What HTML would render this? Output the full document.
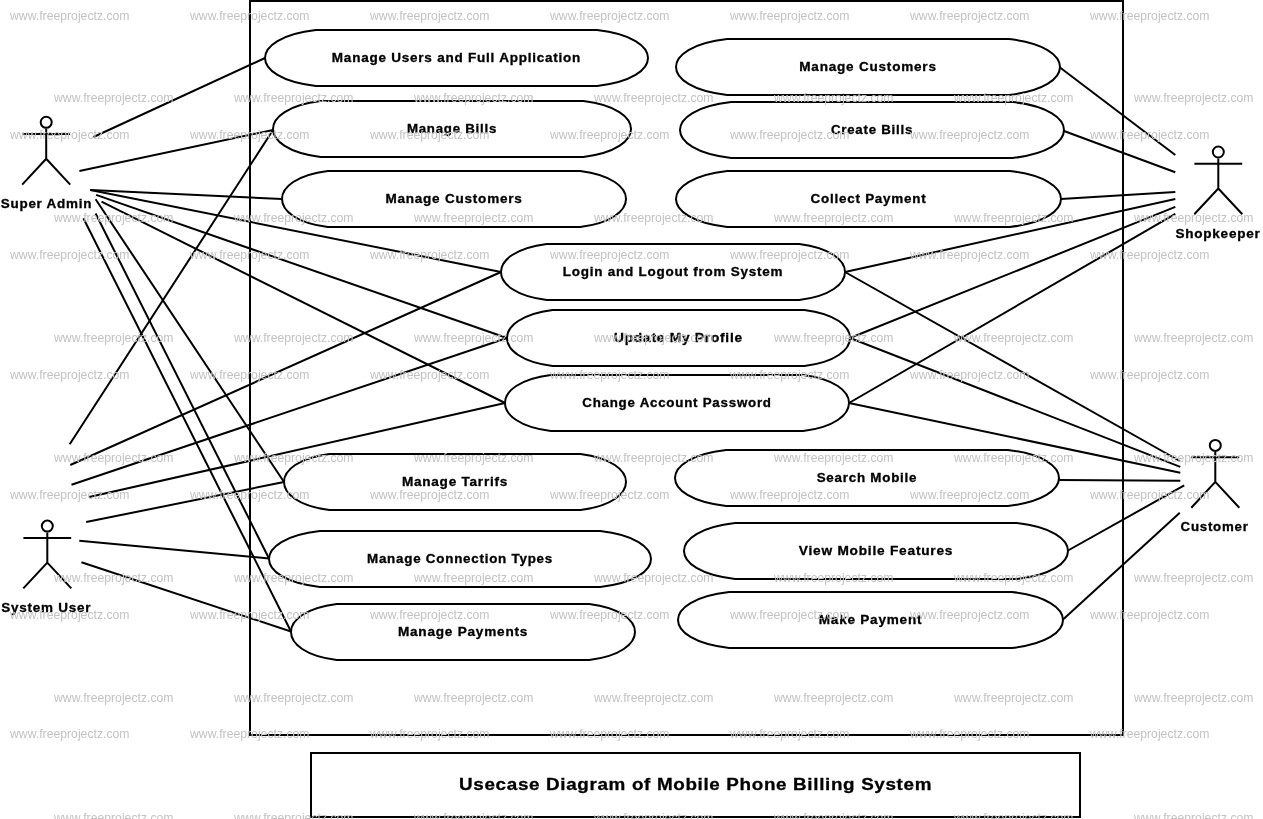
<!DOCTYPE html><html><head><meta charset="utf-8"><title>Usecase Diagram of Mobile Phone Billing System</title>
<style>html,body{margin:0;padding:0;background:#fff;width:1263px;height:819px;overflow:hidden}svg{display:block;will-change:transform}.lb{font-family:"Liberation Sans",sans-serif;font-weight:bold;fill:#000;stroke:#000;stroke-width:0.3px}.wm{font-family:"Liberation Sans",sans-serif;font-size:13px;fill:#c2c2c2}</style></head><body>
<svg width="1263" height="819" viewBox="0 0 1263 819">
<rect x="0" y="0" width="1263" height="819" fill="#fff"/>
<g stroke="#000" stroke-width="2" fill="none" stroke-linecap="butt">
<line x1="93.5" y1="137" x2="265" y2="58"/>
<line x1="79.4" y1="171" x2="273" y2="130"/>
<line x1="90.3" y1="190" x2="282" y2="199"/>
<line x1="90.3" y1="190" x2="501" y2="272"/>
<line x1="96.1" y1="194.9" x2="507" y2="338"/>
<line x1="101.5" y1="201.7" x2="505" y2="403"/>
<line x1="95.6" y1="199.3" x2="284" y2="482"/>
<line x1="95.6" y1="213.5" x2="269" y2="558.5"/>
<line x1="83.4" y1="218.3" x2="291" y2="631.5"/>
<line x1="69.7" y1="444.3" x2="273" y2="130"/>
<line x1="70.3" y1="465" x2="501" y2="272"/>
<line x1="71.5" y1="484.8" x2="507" y2="338"/>
<line x1="89.2" y1="497.1" x2="505" y2="403"/>
<line x1="86.2" y1="522.1" x2="284" y2="482"/>
<line x1="79.3" y1="540.8" x2="269" y2="558.5"/>
<line x1="81.4" y1="562.3" x2="291" y2="631.5"/>
<line x1="1060" y1="67.5" x2="1175.3" y2="155"/>
<line x1="1064" y1="131" x2="1175.3" y2="172.2"/>
<line x1="1061" y1="199" x2="1175.3" y2="191.9"/>
<line x1="845" y1="272" x2="1175.3" y2="199.1"/>
<line x1="850" y1="338" x2="1175.3" y2="206.9"/>
<line x1="849" y1="403" x2="1175.3" y2="213.9"/>
<line x1="845" y1="272" x2="1179.8" y2="461"/>
<line x1="850" y1="338" x2="1180.3" y2="466.9"/>
<line x1="849" y1="403" x2="1180.3" y2="472.7"/>
<line x1="1059" y1="480" x2="1180.3" y2="480.8"/>
<line x1="1068" y1="550.5" x2="1184.2" y2="485.4"/>
<line x1="1063" y1="619.5" x2="1179.8" y2="512.8"/>
</g>
<rect x="250" y="1" width="873" height="734" fill="none" stroke="#000" stroke-width="2"/>
<g stroke="#000" stroke-width="2" fill="#fff">
<path d="M315.9,30L597.1,30C631.7,33.9 648,46.2 648,58C648,69.8 631.7,82.1 597.1,86L315.9,86C281.3,82.1 265,69.8 265,58C265,46.2 281.3,33.9 315.9,30Z"/>
<path d="M320.6,101L583.4,101C615.8,104.9 631,117.2 631,129C631,140.8 615.8,153.1 583.4,157L320.6,157C288.2,153.1 273,140.8 273,129C273,117.2 288.2,104.9 320.6,101Z"/>
<path d="M327.8,171L580.2,171C611.4,174.9 626,187.2 626,199C626,210.8 611.4,223.1 580.2,227L327.8,227C296.6,223.1 282,210.8 282,199C282,187.2 296.6,174.9 327.8,171Z"/>
<path d="M727.1,39L1008.9,39C1043.7,42.9 1060,55.2 1060,67C1060,78.8 1043.7,91.1 1008.9,95L727.1,95C692.3,91.1 676,78.8 676,67C676,55.2 692.3,42.9 727.1,39Z"/>
<path d="M731.1,102L1012.9,102C1047.7,105.9 1064,118.2 1064,130C1064,141.8 1047.7,154.1 1012.9,158L731.1,158C696.3,154.1 680,141.8 680,130C680,118.2 696.3,105.9 731.1,102Z"/>
<path d="M727.2,171L1009.8,171C1044.6,174.9 1061,187.2 1061,199C1061,210.8 1044.6,223.1 1009.8,227L727.2,227C692.4,223.1 676,210.8 676,199C676,187.2 692.4,174.9 727.2,171Z"/>
<path d="M546.8,244L799.2,244C830.4,247.9 845,260.2 845,272C845,283.8 830.4,296.1 799.2,300L546.8,300C515.6,296.1 501,283.8 501,272C501,260.2 515.6,247.9 546.8,244Z"/>
<path d="M552.6,310L804.4,310C835.4,313.9 850,326.2 850,338C850,349.8 835.4,362.1 804.4,366L552.6,366C521.6,362.1 507,349.8 507,338C507,326.2 521.6,313.9 552.6,310Z"/>
<path d="M550.8,375L803.2,375C834.4,378.9 849,391.2 849,403C849,414.8 834.4,427.1 803.2,431L550.8,431C519.6,427.1 505,414.8 505,403C505,391.2 519.6,378.9 550.8,375Z"/>
<path d="M329.5,454L580.5,454C611.4,457.9 626,470.2 626,482C626,493.8 611.4,506.1 580.5,510L329.5,510C298.6,506.1 284,493.8 284,482C284,470.2 298.6,457.9 329.5,454Z"/>
<path d="M726.1,450L1007.9,450C1042.7,453.9 1059,466.2 1059,478C1059,489.8 1042.7,502.1 1007.9,506L726.1,506C691.3,502.1 675,489.8 675,478C675,466.2 691.3,453.9 726.1,450Z"/>
<path d="M319.8,531L600.2,531C634.7,534.9 651,547.2 651,559C651,570.8 634.7,583.1 600.2,587L319.8,587C285.3,583.1 269,570.8 269,559C269,547.2 285.3,534.9 319.8,531Z"/>
<path d="M735.1,523L1016.9,523C1051.7,526.9 1068,539.2 1068,551C1068,562.8 1051.7,575.1 1016.9,579L735.1,579C700.3,575.1 684,562.8 684,551C684,539.2 700.3,526.9 735.1,523Z"/>
<path d="M336.8,604L589.2,604C620.4,607.9 635,620.2 635,632C635,643.8 620.4,656.1 589.2,660L336.8,660C305.6,656.1 291,643.8 291,632C291,620.2 305.6,607.9 336.8,604Z"/>
<path d="M729.2,592L1011.8,592C1046.6,595.9 1063,608.2 1063,620C1063,631.8 1046.6,644.1 1011.8,648L729.2,648C694.4,644.1 678,631.8 678,620C678,608.2 694.4,595.9 729.2,592Z"/>
</g>
<g class="lb" font-size="12.2" letter-spacing="0.7" text-anchor="middle">
<text x="456.5" y="62.1" textLength="249.3" lengthAdjust="spacingAndGlyphs">Manage Users and Full Application</text>
<text x="452" y="133.1" textLength="90.2" lengthAdjust="spacingAndGlyphs">Manage Bills</text>
<text x="454" y="203.1" textLength="137.2" lengthAdjust="spacingAndGlyphs">Manage Customers</text>
<text x="868" y="71.1" textLength="137.4" lengthAdjust="spacingAndGlyphs">Manage Customers</text>
<text x="872" y="134.1" textLength="82.2" lengthAdjust="spacingAndGlyphs">Create Bills</text>
<text x="868.5" y="203.1" textLength="115.9" lengthAdjust="spacingAndGlyphs">Collect Payment</text>
<text x="673" y="276.1" textLength="220.6" lengthAdjust="spacingAndGlyphs">Login and Logout from System</text>
<text x="678.5" y="342.1" textLength="128.9" lengthAdjust="spacingAndGlyphs">Update My Profile</text>
<text x="677" y="407.1" textLength="189.5" lengthAdjust="spacingAndGlyphs">Change Account Password</text>
<text x="455" y="486.1" textLength="106.2" lengthAdjust="spacingAndGlyphs">Manage Tarrifs</text>
<text x="867" y="482.1" textLength="100.6" lengthAdjust="spacingAndGlyphs">Search Mobile</text>
<text x="460" y="563.1" textLength="186" lengthAdjust="spacingAndGlyphs">Manage Connection Types</text>
<text x="876" y="555.1" textLength="154.5" lengthAdjust="spacingAndGlyphs">View Mobile Features</text>
<text x="463" y="636.1" textLength="130.2" lengthAdjust="spacingAndGlyphs">Manage Payments</text>
<text x="870.5" y="624.1" textLength="103.5" lengthAdjust="spacingAndGlyphs">Make Payment</text>
</g>
<g stroke="#000" stroke-width="2" fill="none">
<circle cx="46.2" cy="122.3" r="5.5"/>
<path d="M22.3,134.1H70.1M46.2,128.8V158.8L22.2,184.6M46.2,158.8L70.2,184.6"/>
<circle cx="47.3" cy="526.1" r="5.5"/>
<path d="M23.4,537.9H71.2M47.3,532.6V562.6L23.3,588.4M47.3,562.6L71.3,588.4"/>
<circle cx="1218.3" cy="152" r="5.5"/>
<path d="M1194.4,163.8H1242.2M1218.3,158.5V188.5L1194.3,214.3M1218.3,188.5L1242.3,214.3"/>
<circle cx="1215.3" cy="445.4" r="5.5"/>
<path d="M1191.4,457.2H1239.2M1215.3,451.9V481.9L1191.3,507.7M1215.3,481.9L1239.3,507.7"/>
</g>
<g class="lb" font-size="12.2" letter-spacing="0.7" text-anchor="middle">
<text x="46.5" y="207.7" textLength="91.6" lengthAdjust="spacingAndGlyphs">Super Admin</text>
<text x="46.2" y="611.5" textLength="90" lengthAdjust="spacingAndGlyphs">System User</text>
<text x="1218" y="238" textLength="85.2" lengthAdjust="spacingAndGlyphs">Shopkeeper</text>
<text x="1214.6" y="530.6" textLength="68" lengthAdjust="spacingAndGlyphs">Customer</text>
</g>
<rect x="311" y="753" width="769" height="64" fill="#fff" stroke="#000" stroke-width="2"/>
<text class="lb" x="695.6" y="789.6" font-size="17.4" letter-spacing="0.6" text-anchor="middle" textLength="473" lengthAdjust="spacingAndGlyphs">Usecase Diagram of Mobile Phone Billing System</text>
<g class="wm">
<text x="10" y="19.5" textLength="119.5" lengthAdjust="spacingAndGlyphs">www.freeprojectz.com</text>
<text x="54" y="102.1" textLength="119.5" lengthAdjust="spacingAndGlyphs">www.freeprojectz.com</text>
<text x="190" y="19.5" textLength="119.5" lengthAdjust="spacingAndGlyphs">www.freeprojectz.com</text>
<text x="234" y="102.1" textLength="119.5" lengthAdjust="spacingAndGlyphs">www.freeprojectz.com</text>
<text x="370" y="19.5" textLength="119.5" lengthAdjust="spacingAndGlyphs">www.freeprojectz.com</text>
<text x="414" y="102.1" textLength="119.5" lengthAdjust="spacingAndGlyphs">www.freeprojectz.com</text>
<text x="550" y="19.5" textLength="119.5" lengthAdjust="spacingAndGlyphs">www.freeprojectz.com</text>
<text x="594" y="102.1" textLength="119.5" lengthAdjust="spacingAndGlyphs">www.freeprojectz.com</text>
<text x="730" y="19.5" textLength="119.5" lengthAdjust="spacingAndGlyphs">www.freeprojectz.com</text>
<text x="774" y="102.1" textLength="119.5" lengthAdjust="spacingAndGlyphs">www.freeprojectz.com</text>
<text x="910" y="19.5" textLength="119.5" lengthAdjust="spacingAndGlyphs">www.freeprojectz.com</text>
<text x="954" y="102.1" textLength="119.5" lengthAdjust="spacingAndGlyphs">www.freeprojectz.com</text>
<text x="1090" y="19.5" textLength="119.5" lengthAdjust="spacingAndGlyphs">www.freeprojectz.com</text>
<text x="1134" y="102.1" textLength="119.5" lengthAdjust="spacingAndGlyphs">www.freeprojectz.com</text>
<text x="10" y="139.3" textLength="119.5" lengthAdjust="spacingAndGlyphs">www.freeprojectz.com</text>
<text x="54" y="222.1" textLength="119.5" lengthAdjust="spacingAndGlyphs">www.freeprojectz.com</text>
<text x="190" y="139.3" textLength="119.5" lengthAdjust="spacingAndGlyphs">www.freeprojectz.com</text>
<text x="234" y="222.1" textLength="119.5" lengthAdjust="spacingAndGlyphs">www.freeprojectz.com</text>
<text x="370" y="139.3" textLength="119.5" lengthAdjust="spacingAndGlyphs">www.freeprojectz.com</text>
<text x="414" y="222.1" textLength="119.5" lengthAdjust="spacingAndGlyphs">www.freeprojectz.com</text>
<text x="550" y="139.3" textLength="119.5" lengthAdjust="spacingAndGlyphs">www.freeprojectz.com</text>
<text x="594" y="222.1" textLength="119.5" lengthAdjust="spacingAndGlyphs">www.freeprojectz.com</text>
<text x="730" y="139.3" textLength="119.5" lengthAdjust="spacingAndGlyphs">www.freeprojectz.com</text>
<text x="774" y="222.1" textLength="119.5" lengthAdjust="spacingAndGlyphs">www.freeprojectz.com</text>
<text x="910" y="139.3" textLength="119.5" lengthAdjust="spacingAndGlyphs">www.freeprojectz.com</text>
<text x="954" y="222.1" textLength="119.5" lengthAdjust="spacingAndGlyphs">www.freeprojectz.com</text>
<text x="1090" y="139.3" textLength="119.5" lengthAdjust="spacingAndGlyphs">www.freeprojectz.com</text>
<text x="1134" y="222.1" textLength="119.5" lengthAdjust="spacingAndGlyphs">www.freeprojectz.com</text>
<text x="10" y="259.1" textLength="119.5" lengthAdjust="spacingAndGlyphs">www.freeprojectz.com</text>
<text x="54" y="342.1" textLength="119.5" lengthAdjust="spacingAndGlyphs">www.freeprojectz.com</text>
<text x="190" y="259.1" textLength="119.5" lengthAdjust="spacingAndGlyphs">www.freeprojectz.com</text>
<text x="234" y="342.1" textLength="119.5" lengthAdjust="spacingAndGlyphs">www.freeprojectz.com</text>
<text x="370" y="259.1" textLength="119.5" lengthAdjust="spacingAndGlyphs">www.freeprojectz.com</text>
<text x="414" y="342.1" textLength="119.5" lengthAdjust="spacingAndGlyphs">www.freeprojectz.com</text>
<text x="550" y="259.1" textLength="119.5" lengthAdjust="spacingAndGlyphs">www.freeprojectz.com</text>
<text x="594" y="342.1" textLength="119.5" lengthAdjust="spacingAndGlyphs">www.freeprojectz.com</text>
<text x="730" y="259.1" textLength="119.5" lengthAdjust="spacingAndGlyphs">www.freeprojectz.com</text>
<text x="774" y="342.1" textLength="119.5" lengthAdjust="spacingAndGlyphs">www.freeprojectz.com</text>
<text x="910" y="259.1" textLength="119.5" lengthAdjust="spacingAndGlyphs">www.freeprojectz.com</text>
<text x="954" y="342.1" textLength="119.5" lengthAdjust="spacingAndGlyphs">www.freeprojectz.com</text>
<text x="1090" y="259.1" textLength="119.5" lengthAdjust="spacingAndGlyphs">www.freeprojectz.com</text>
<text x="1134" y="342.1" textLength="119.5" lengthAdjust="spacingAndGlyphs">www.freeprojectz.com</text>
<text x="10" y="378.9" textLength="119.5" lengthAdjust="spacingAndGlyphs">www.freeprojectz.com</text>
<text x="54" y="462.1" textLength="119.5" lengthAdjust="spacingAndGlyphs">www.freeprojectz.com</text>
<text x="190" y="378.9" textLength="119.5" lengthAdjust="spacingAndGlyphs">www.freeprojectz.com</text>
<text x="234" y="462.1" textLength="119.5" lengthAdjust="spacingAndGlyphs">www.freeprojectz.com</text>
<text x="370" y="378.9" textLength="119.5" lengthAdjust="spacingAndGlyphs">www.freeprojectz.com</text>
<text x="414" y="462.1" textLength="119.5" lengthAdjust="spacingAndGlyphs">www.freeprojectz.com</text>
<text x="550" y="378.9" textLength="119.5" lengthAdjust="spacingAndGlyphs">www.freeprojectz.com</text>
<text x="594" y="462.1" textLength="119.5" lengthAdjust="spacingAndGlyphs">www.freeprojectz.com</text>
<text x="730" y="378.9" textLength="119.5" lengthAdjust="spacingAndGlyphs">www.freeprojectz.com</text>
<text x="774" y="462.1" textLength="119.5" lengthAdjust="spacingAndGlyphs">www.freeprojectz.com</text>
<text x="910" y="378.9" textLength="119.5" lengthAdjust="spacingAndGlyphs">www.freeprojectz.com</text>
<text x="954" y="462.1" textLength="119.5" lengthAdjust="spacingAndGlyphs">www.freeprojectz.com</text>
<text x="1090" y="378.9" textLength="119.5" lengthAdjust="spacingAndGlyphs">www.freeprojectz.com</text>
<text x="1134" y="462.1" textLength="119.5" lengthAdjust="spacingAndGlyphs">www.freeprojectz.com</text>
<text x="10" y="498.7" textLength="119.5" lengthAdjust="spacingAndGlyphs">www.freeprojectz.com</text>
<text x="54" y="582.1" textLength="119.5" lengthAdjust="spacingAndGlyphs">www.freeprojectz.com</text>
<text x="190" y="498.7" textLength="119.5" lengthAdjust="spacingAndGlyphs">www.freeprojectz.com</text>
<text x="234" y="582.1" textLength="119.5" lengthAdjust="spacingAndGlyphs">www.freeprojectz.com</text>
<text x="370" y="498.7" textLength="119.5" lengthAdjust="spacingAndGlyphs">www.freeprojectz.com</text>
<text x="414" y="582.1" textLength="119.5" lengthAdjust="spacingAndGlyphs">www.freeprojectz.com</text>
<text x="550" y="498.7" textLength="119.5" lengthAdjust="spacingAndGlyphs">www.freeprojectz.com</text>
<text x="594" y="582.1" textLength="119.5" lengthAdjust="spacingAndGlyphs">www.freeprojectz.com</text>
<text x="730" y="498.7" textLength="119.5" lengthAdjust="spacingAndGlyphs">www.freeprojectz.com</text>
<text x="774" y="582.1" textLength="119.5" lengthAdjust="spacingAndGlyphs">www.freeprojectz.com</text>
<text x="910" y="498.7" textLength="119.5" lengthAdjust="spacingAndGlyphs">www.freeprojectz.com</text>
<text x="954" y="582.1" textLength="119.5" lengthAdjust="spacingAndGlyphs">www.freeprojectz.com</text>
<text x="1090" y="498.7" textLength="119.5" lengthAdjust="spacingAndGlyphs">www.freeprojectz.com</text>
<text x="1134" y="582.1" textLength="119.5" lengthAdjust="spacingAndGlyphs">www.freeprojectz.com</text>
<text x="10" y="618.5" textLength="119.5" lengthAdjust="spacingAndGlyphs">www.freeprojectz.com</text>
<text x="54" y="702.1" textLength="119.5" lengthAdjust="spacingAndGlyphs">www.freeprojectz.com</text>
<text x="190" y="618.5" textLength="119.5" lengthAdjust="spacingAndGlyphs">www.freeprojectz.com</text>
<text x="234" y="702.1" textLength="119.5" lengthAdjust="spacingAndGlyphs">www.freeprojectz.com</text>
<text x="370" y="618.5" textLength="119.5" lengthAdjust="spacingAndGlyphs">www.freeprojectz.com</text>
<text x="414" y="702.1" textLength="119.5" lengthAdjust="spacingAndGlyphs">www.freeprojectz.com</text>
<text x="550" y="618.5" textLength="119.5" lengthAdjust="spacingAndGlyphs">www.freeprojectz.com</text>
<text x="594" y="702.1" textLength="119.5" lengthAdjust="spacingAndGlyphs">www.freeprojectz.com</text>
<text x="730" y="618.5" textLength="119.5" lengthAdjust="spacingAndGlyphs">www.freeprojectz.com</text>
<text x="774" y="702.1" textLength="119.5" lengthAdjust="spacingAndGlyphs">www.freeprojectz.com</text>
<text x="910" y="618.5" textLength="119.5" lengthAdjust="spacingAndGlyphs">www.freeprojectz.com</text>
<text x="954" y="702.1" textLength="119.5" lengthAdjust="spacingAndGlyphs">www.freeprojectz.com</text>
<text x="1090" y="618.5" textLength="119.5" lengthAdjust="spacingAndGlyphs">www.freeprojectz.com</text>
<text x="1134" y="702.1" textLength="119.5" lengthAdjust="spacingAndGlyphs">www.freeprojectz.com</text>
<text x="10" y="738.3" textLength="119.5" lengthAdjust="spacingAndGlyphs">www.freeprojectz.com</text>
<text x="54" y="822.1" textLength="119.5" lengthAdjust="spacingAndGlyphs">www.freeprojectz.com</text>
<text x="190" y="738.3" textLength="119.5" lengthAdjust="spacingAndGlyphs">www.freeprojectz.com</text>
<text x="234" y="822.1" textLength="119.5" lengthAdjust="spacingAndGlyphs">www.freeprojectz.com</text>
<text x="370" y="738.3" textLength="119.5" lengthAdjust="spacingAndGlyphs">www.freeprojectz.com</text>
<text x="414" y="822.1" textLength="119.5" lengthAdjust="spacingAndGlyphs">www.freeprojectz.com</text>
<text x="550" y="738.3" textLength="119.5" lengthAdjust="spacingAndGlyphs">www.freeprojectz.com</text>
<text x="594" y="822.1" textLength="119.5" lengthAdjust="spacingAndGlyphs">www.freeprojectz.com</text>
<text x="730" y="738.3" textLength="119.5" lengthAdjust="spacingAndGlyphs">www.freeprojectz.com</text>
<text x="774" y="822.1" textLength="119.5" lengthAdjust="spacingAndGlyphs">www.freeprojectz.com</text>
<text x="910" y="738.3" textLength="119.5" lengthAdjust="spacingAndGlyphs">www.freeprojectz.com</text>
<text x="954" y="822.1" textLength="119.5" lengthAdjust="spacingAndGlyphs">www.freeprojectz.com</text>
<text x="1090" y="738.3" textLength="119.5" lengthAdjust="spacingAndGlyphs">www.freeprojectz.com</text>
<text x="1134" y="822.1" textLength="119.5" lengthAdjust="spacingAndGlyphs">www.freeprojectz.com</text>
</g>
</svg></body></html>
